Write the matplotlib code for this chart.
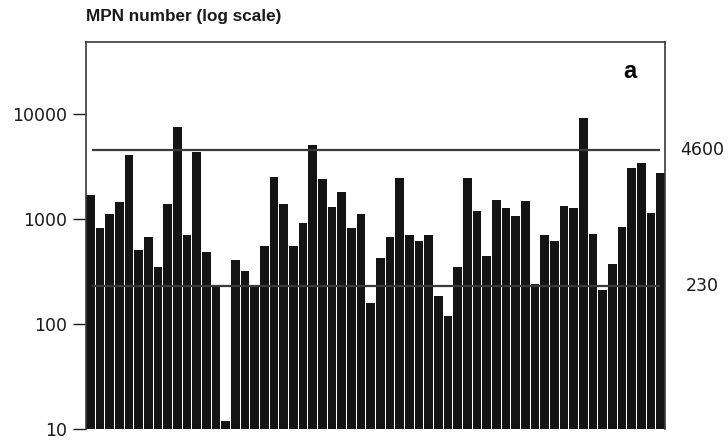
import numpy as np
import matplotlib
matplotlib.use("Agg")
import matplotlib.pyplot as plt
import matplotlib.transforms as mtransforms

# MPN counts per sample
mpn = [1700, 820, 1120, 1470, 4100, 510, 670, 350, 1390, 7500,
       700, 4400, 490, 230, 12, 410, 320, 230, 560, 2500,
       1390, 560, 930, 5100, 2440, 1320, 1820, 820, 1110, 160,
       430, 680, 2470, 700, 620, 710, 186, 120, 350, 2490,
       1200, 445, 1520, 1270, 1080, 1500, 240, 710, 620, 1350,
       1290, 9200, 730, 210, 370, 840, 3100, 3450, 1150, 2770]
limits = [4600, 230]
limit_labels = ["4600", "230"]
yticks = [10, 100, 1000, 10000]

plt.rcParams['font.family'] = ['Liberation Sans', 'DejaVu Sans']
num_font = 'DejaVu Sans'

fig = plt.figure(figsize=(7.28, 4.42), dpi=100)
ax = fig.add_axes([86/728, 13/442, 579/728, 387/442])

x = np.arange(len(mpn))
w = 0.88
ax.bar(x, mpn, width=w, color='#141414', bottom=0)
ax.set_yscale('log')
ax.set_ylim(10, 48900)
ax.set_xlim(-w/2, len(mpn) - 1 + w/2)

for v in limits:
    ax.hlines(v, 0.2, 58.9, color='#3a3a3a', lw=1.6, zorder=3)

trans = mtransforms.blended_transform_factory(fig.transFigure, ax.transData)
for v, lab in zip(limits, limit_labels):
    ax.text(702/728, v, lab, transform=trans, ha='center', va='center',
            fontsize=12.5, color='#1a1a1a', family=num_font)

ax.set_yticks(yticks)
ax.set_yticklabels([str(t) for t in yticks], family=num_font)
ax.minorticks_off()
ax.tick_params(axis='y', which='major', direction='out', length=9.5, width=1,
               pad=4, labelsize=12.5, colors='#1a1a1a')
ax.tick_params(axis='x', bottom=False, labelbottom=False)
ax.yaxis.set_minor_locator(matplotlib.ticker.NullLocator())

for s in ['left', 'top', 'right']:
    ax.spines[s].set_color('#3a3a3a')
    ax.spines[s].set_linewidth(1.2)
ax.spines['bottom'].set_visible(False)

ax.text(630/728, 1 - 72/442, 'a', transform=fig.transFigure, ha='center',
        va='center', fontsize=17, fontweight='bold')
fig.text(86/728, 1 - 16/442, 'MPN number (log scale)', ha='left', va='center',
         fontsize=12.3, fontweight='bold', color='#1a1a1a')

fig.savefig('out.png', dpi=100)
